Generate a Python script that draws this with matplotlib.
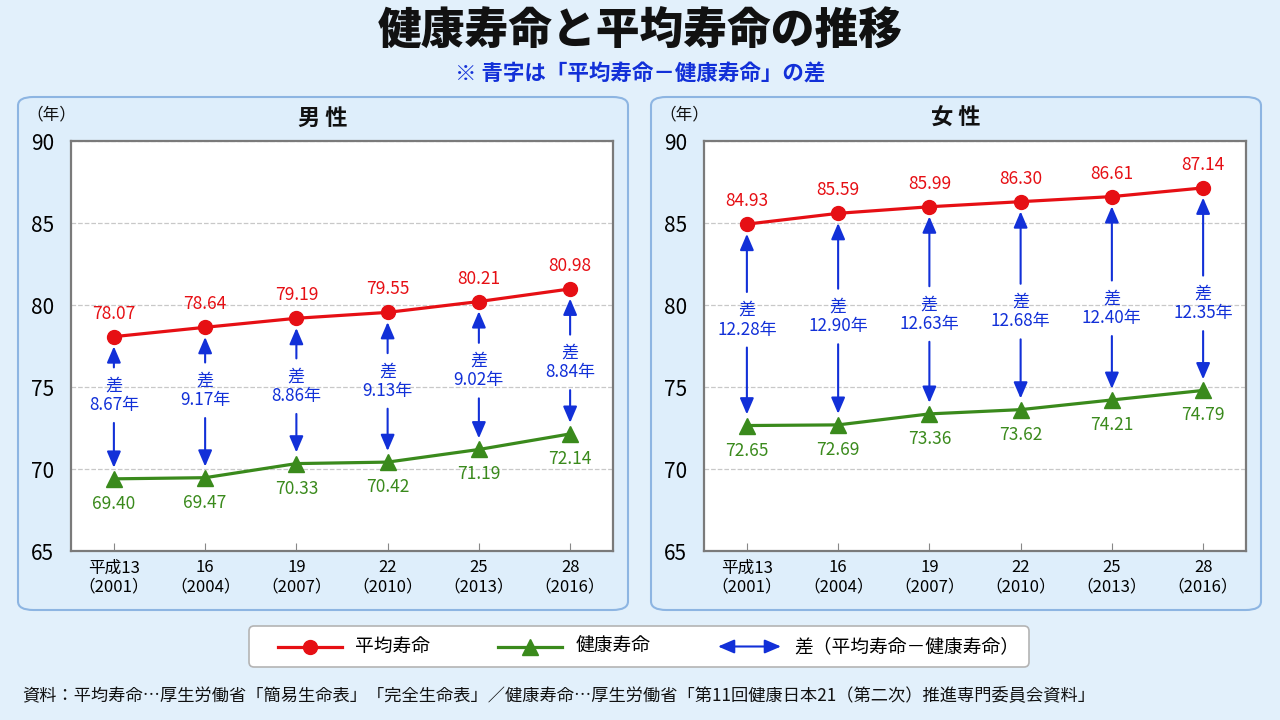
import matplotlib
matplotlib.use('Agg')
import matplotlib.pyplot as plt
from matplotlib.patches import FancyBboxPatch

plt.rcParams['font.family'] = ['Noto Sans CJK JP', 'DejaVu Sans']

years = ['平成13\n（2001）', '16\n（2004）', '19\n（2007）', '22\n（2010）', '25\n（2013）', '28\n（2016）']

avg_m = [78.07, 78.64, 79.19, 79.55, 80.21, 80.98]
hale_m = [69.40, 69.47, 70.33, 70.42, 71.19, 72.14]
gap_m = [8.67, 9.17, 8.86, 9.13, 9.02, 8.84]

avg_f = [84.93, 85.59, 85.99, 86.30, 86.61, 87.14]
hale_f = [72.65, 72.69, 73.36, 73.62, 74.21, 74.79]
gap_f = [12.28, 12.90, 12.63, 12.68, 12.40, 12.35]

# where the "差" labels sit (data units), layout only
lab_y_m = [74.5, 74.8, 75.05, 75.37, 76.0, 76.5]
lab_y_f = [79.1, 79.3, 79.45, 79.6, 79.8, 80.1]

RED = '#e60f14'
GREEN = '#3a8a1c'
BLUE = '#1230d8'
BG = '#e2f0fb'

W, H = 1280, 720
fig = plt.figure(figsize=(12.8, 7.2), dpi=100, facecolor=BG)


def px(x, y, w, h):
    return [x / W, 1 - (y + h) / H, w / W, h / H]


fig.text(0.5, 1 - 31 / H, '健康寿命と平均寿命の推移', ha='center', va='center',
         fontsize=31.5, fontweight='black', color='#111111')
fig.text(0.5, 1 - 74 / H, '※ 青字は「平均寿命－健康寿命」の差', ha='center', va='center',
         fontsize=15.5, fontweight='bold', color=BLUE)


def panel(x0, title, avg, hale, gap, lab_y):
    box = FancyBboxPatch((x0 / W, 1 - 610 / H), 610 / W, 513 / H,
                         boxstyle='round,pad=0,rounding_size=0.012',
                         transform=fig.transFigure, facecolor='#deeefb',
                         edgecolor='#8db5e2', linewidth=1.5, zorder=-5)
    fig.patches.append(box)
    fig.text((x0 + 305) / W, 1 - 118 / H, title, ha='center', va='center',
             fontsize=16, fontweight='bold', color='#111111')
    fig.text((x0 + 33) / W, 1 - 115 / H, '（年）', ha='center', va='center',
             fontsize=12, color='#111111')

    ax = fig.add_axes(px(x0 + 53, 141, 542, 410))
    ax.set_zorder(2)
    ax.set_facecolor('white')
    xs = list(range(len(avg)))
    ax.plot(xs, avg, color=RED, lw=2.3, marker='o', ms=10, zorder=4)
    ax.plot(xs, hale, color=GREEN, lw=2.3, marker='^', ms=11, zorder=4)

    for i in xs:
        ax.annotate(f'{avg[i]:.2f}', (i, avg[i]), xytext=(0, 16.5), textcoords='offset points',
                    ha='center', va='center', color=RED, fontsize=12.5)
        ax.annotate(f'{hale[i]:.2f}', (i, hale[i]), xytext=(0, -18), textcoords='offset points',
                    ha='center', va='center', color=GREEN, fontsize=12.5)
        ax.text(i, lab_y[i], f'差\n{gap[i]:.2f}年', ha='center', va='center',
                color=BLUE, fontsize=12.3, linespacing=1.12, zorder=5)
        for end, shr in ((avg[i], 7), (hale[i], 8)):
            ax.annotate('', xy=(i, end), xytext=(i, lab_y[i]),
                        arrowprops=dict(arrowstyle='-|>,head_length=0.7,head_width=0.3',
                                        color=BLUE, lw=1.5, shrinkA=20, shrinkB=shr,
                                        mutation_scale=14), zorder=3)

    ax.set_xlim(-0.47, 5.47)
    ax.set_ylim(65, 90)
    ax.set_yticks([65, 70, 75, 80, 85, 90])
    ax.set_xticks(xs)
    ax.set_xticklabels(years, fontsize=12, linespacing=1.15)
    ax.tick_params(axis='y', length=0, labelsize=15, pad=12)
    ax.tick_params(axis='x', direction='in', length=6, color='#888888', pad=6)
    ax.grid(axis='y', color='#c8c8c8', ls='--', lw=0.9)
    for s in ax.spines.values():
        s.set_color('#7a7a7a')
        s.set_linewidth(1.6)
    return ax


panel(18, '男 性', avg_m, hale_m, gap_m, lab_y_m)
panel(651, '女 性', avg_f, hale_f, gap_f, lab_y_f)

# legend box
leg = fig.add_axes(px(248, 625, 782, 43))
leg.set_xlim(0, 782)
leg.set_ylim(0, 43)
leg.axis('off')
leg.add_patch(FancyBboxPatch((1, 1), 780, 41, boxstyle='round,pad=0,rounding_size=5',
                             facecolor='white', edgecolor='#b4b4b4', lw=1.2, clip_on=False))
leg.plot([30, 62, 94], [21.5, 21.5, 21.5], color=RED, lw=2.3, marker='o', ms=10,
         markevery=[1])
leg.text(107, 21.5, '平均寿命', va='center', fontsize=13.5)
leg.plot([250, 282, 314], [21.5, 21.5, 21.5], color=GREEN, lw=2.3, marker='^', ms=11,
         markevery=[1])
leg.text(328, 21.5, '健康寿命', va='center', fontsize=13.5)
leg.annotate('', xy=(533, 21.5), xytext=(470, 21.5),
             arrowprops=dict(arrowstyle='<|-|>,head_length=0.7,head_width=0.3',
                             color=BLUE, lw=1.5, shrinkA=0, shrinkB=0, mutation_scale=14))
leg.text(546, 21.5, '差（平均寿命－健康寿命）', va='center', fontsize=13.5)

fig.text(22 / W, 1 - 695 / H,
         '資料：平均寿命…厚生労働省「簡易生命表」「完全生命表」／健康寿命…厚生労働省「第11回健康日本21（第二次）推進専門委員会資料」',
         ha='left', va='center', fontsize=12.4, color='#111111')

fig.savefig('out.png', dpi=100, facecolor=BG)
